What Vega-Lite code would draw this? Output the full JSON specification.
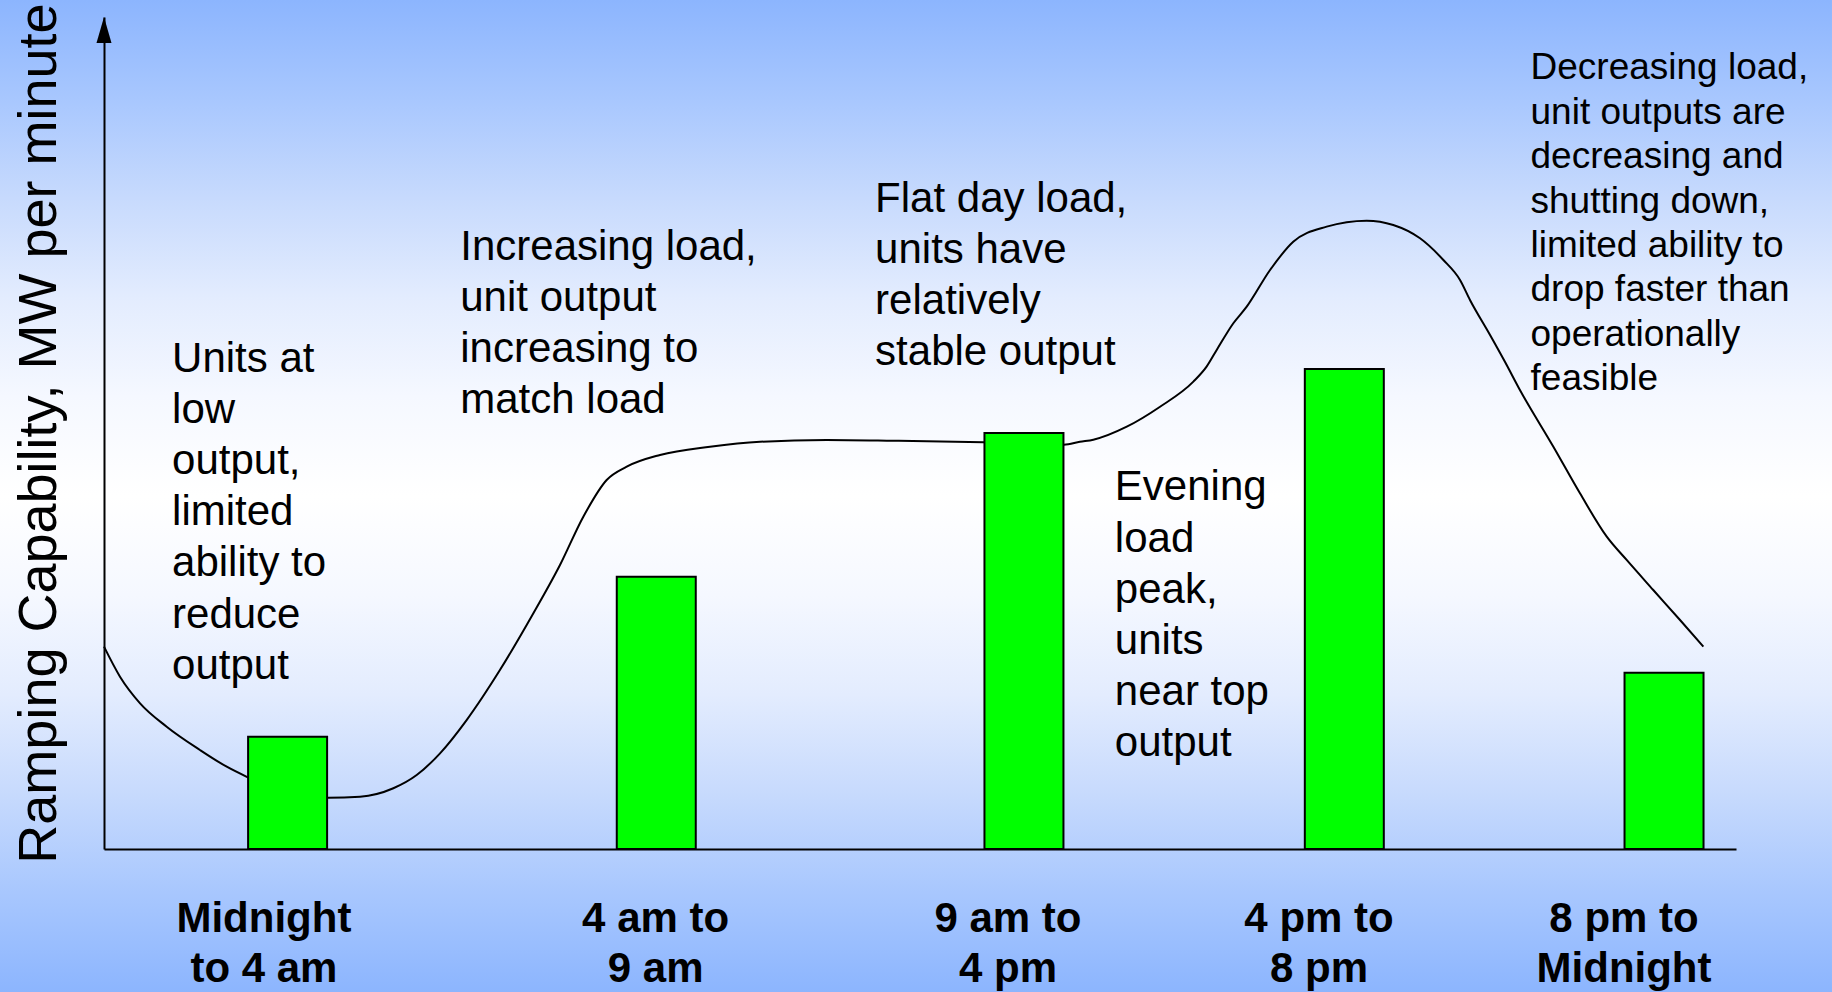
{
  "$schema": "https://vega.github.io/schema/vega-lite/v6.json",
  "width": 1632,
  "height": 832,
  "autosize": {"type": "none"},
  "padding": {"left": 104, "top": 17, "right": 96, "bottom": 143},
  "background": "#ffffff",
  "config": {
    "view": {"stroke": null},
    "font": "Liberation Sans",
    "axis": {"domainColor": "#000000", "domainWidth": 2, "ticks": false, "labels": false, "grid": false, "zindex": 1}
  },
  "datasets": {
    "bars": [
      {"period": "Midnight\nto 4 am", "slot": 11.25, "capability": 13.5, "label_pos": 9.8},
      {"period": "4 am to\n9 am", "slot": 33.84, "capability": 32.73, "label_pos": 33.8},
      {"period": "9 am to\n4 pm", "slot": 56.37, "capability": 50.0, "label_pos": 55.39},
      {"period": "4 pm to\n8 pm", "slot": 76.0, "capability": 57.7, "label_pos": 74.45},
      {"period": "8 pm to\nMidnight", "slot": 95.59, "capability": 21.19, "label_pos": 93.14}
    ],
    "curve": [
      {"pos": 0, "load": 24.32}, {"pos": 0.98, "load": 20.71}, {"pos": 2.21, "load": 17.51},
      {"pos": 3.84, "load": 14.7}, {"pos": 5.88, "load": 11.9}, {"pos": 7.52, "load": 9.89},
      {"pos": 8.81, "load": 8.62}, {"pos": 10.17, "load": 7.45}, {"pos": 12.01, "load": 6.49},
      {"pos": 13.74, "load": 6.17}, {"pos": 15.69, "load": 6.29}, {"pos": 17.73, "load": 7.3},
      {"pos": 19.16, "load": 8.89}, {"pos": 20.59, "load": 11.5}, {"pos": 22.22, "load": 15.5},
      {"pos": 24.26, "load": 21.51}, {"pos": 26.31, "load": 28.33}, {"pos": 27.94, "load": 34.13},
      {"pos": 29.37, "load": 39.94}, {"pos": 30.8, "load": 44.35}, {"pos": 32.03, "load": 45.95},
      {"pos": 34.07, "load": 47.36}, {"pos": 37.13, "load": 48.35}, {"pos": 40.2, "load": 48.95},
      {"pos": 44.28, "load": 49.16}, {"pos": 48.36, "load": 49.07}, {"pos": 53.88, "load": 48.88},
      {"pos": 56.31, "load": 48.74}, {"pos": 58.82, "load": 48.6}, {"pos": 59.8, "load": 48.95},
      {"pos": 60.62, "load": 49.2}, {"pos": 62.67, "load": 50.76}, {"pos": 64.71, "load": 53.16},
      {"pos": 66.75, "load": 56.17}, {"pos": 67.56, "load": 57.97}, {"pos": 68.18, "load": 59.98},
      {"pos": 69.2, "load": 63.19}, {"pos": 70.02, "load": 65.18}, {"pos": 71.45, "load": 69.59},
      {"pos": 72.87, "load": 72.99}, {"pos": 74.92, "load": 74.8}, {"pos": 77.37, "load": 75.52},
      {"pos": 79.0, "load": 75.0}, {"pos": 80.64, "load": 73.4}, {"pos": 82.07, "load": 70.79},
      {"pos": 83.09, "load": 68.39}, {"pos": 83.7, "load": 65.99}, {"pos": 84.93, "load": 61.78},
      {"pos": 85.85, "load": 58.53}, {"pos": 86.76, "load": 55.17}, {"pos": 88.81, "load": 48.35},
      {"pos": 90.44, "load": 42.75}, {"pos": 92.08, "load": 37.54}, {"pos": 93.3, "load": 34.74},
      {"pos": 94.93, "load": 31.13}, {"pos": 96.57, "load": 27.52}, {"pos": 98.0, "load": 24.32}
    ],
    "notes": [
      {"period": "Midnight to 4 am", "note": "Units at\nlow\noutput,\nlimited\nability to\nreduce\noutput", "x": 4.17, "y": 57.33},
      {"period": "4 am to 9 am", "note": "Increasing load,\nunit output\nincreasing to\nmatch load", "x": 21.83, "y": 70.79},
      {"period": "9 am to 4 pm", "note": "Flat day load,\nunits have\nrelatively\nstable output", "x": 47.25, "y": 76.6},
      {"period": "4 pm to 8 pm", "note": "Evening\nload\npeak,\nunits\nnear top\noutput", "x": 61.94, "y": 41.89},
      {"period": "8 pm to Midnight", "note": "Decreasing load,\nunit outputs are\ndecreasing and\nshutting down,\nlimited ability to\ndrop faster than\noperationally\nfeasible", "x": 87.41, "y": 92.51}
    ]
  },
  "layer": [
    {
      "data": {"values": [{}]},
      "mark": {
        "type": "rect",
        "fill": {
          "gradient": "linear", "x1": 0, "y1": 0, "x2": 0, "y2": 1,
          "stops": [
            {"offset": 0.0, "color": "#8cb5fe"},
            {"offset": 0.1, "color": "#a8c7fe"},
            {"offset": 0.2, "color": "#c7dafd"},
            {"offset": 0.3, "color": "#e3ecfe"},
            {"offset": 0.4, "color": "#f5f8ff"},
            {"offset": 0.5, "color": "#ffffff"},
            {"offset": 0.6, "color": "#f5f8ff"},
            {"offset": 0.7, "color": "#e3ecfe"},
            {"offset": 0.8, "color": "#c7dafd"},
            {"offset": 0.9, "color": "#a8c7fe"},
            {"offset": 1.0, "color": "#8cb5fe"}
          ]
        }
      },
      "encoding": {
        "x": {"datum": -6.3725, "type": "quantitative", "scale": {"domain": [0, 100], "nice": false, "zero": false, "padding": 0}},
        "x2": {"datum": 105.882},
        "y": {"datum": -17.1875, "type": "quantitative", "scale": {"domain": [0, 100], "nice": false, "zero": false, "padding": 0}},
        "y2": {"datum": 102.043}
      }
    },
    {
      "data": {"name": "curve"},
      "mark": {"type": "line", "interpolate": "monotone", "color": "#000000", "strokeWidth": 2},
      "encoding": {
        "x": {"field": "pos", "type": "quantitative", "axis": {"title": null, "domainColor": "#000000", "domainWidth": 2, "ticks": false, "labels": false, "grid": false, "zindex": 1}},
        "y": {"field": "load", "type": "quantitative",
              "axis": {"title": "Ramping Capability, MW per minute", "titleFontSize": 54, "titleFontWeight": "normal", "titleColor": "#000000", "titleFont": "Liberation Sans", "titlePadding": 38, "domainColor": "#000000", "domainWidth": 2, "ticks": false, "labels": false, "grid": false, "zindex": 1}}
      }
    },
    {
      "data": {"name": "bars"},
      "mark": {"type": "bar", "width": 79, "fill": "#00ff00", "stroke": "#000000", "strokeWidth": 2},
      "encoding": {
        "x": {"field": "slot", "type": "quantitative"},
        "y": {"field": "capability", "type": "quantitative"}
      }
    },
    {
      "data": {"name": "notes"},
      "transform": [{"filter": "datum.period !== '8 pm to Midnight'"}],
      "mark": {"type": "text", "align": "left", "baseline": "alphabetic", "lineBreak": "\n", "lineHeight": 51.1, "fontSize": 42, "font": "Liberation Sans", "color": "#000000"},
      "encoding": {
        "x": {"field": "x", "type": "quantitative"},
        "y": {"field": "y", "type": "quantitative"},
        "text": {"field": "note"}
      }
    },
    {
      "data": {"name": "notes"},
      "transform": [{"filter": "datum.period === '8 pm to Midnight'"}],
      "mark": {"type": "text", "align": "left", "baseline": "alphabetic", "lineBreak": "\n", "lineHeight": 44.4, "fontSize": 37, "font": "Liberation Sans", "color": "#000000"},
      "encoding": {
        "x": {"field": "x", "type": "quantitative"},
        "y": {"field": "y", "type": "quantitative"},
        "text": {"field": "note"}
      }
    },
    {
      "data": {"name": "bars"},
      "mark": {"type": "text", "align": "center", "baseline": "alphabetic", "lineBreak": "\n", "lineHeight": 50.7, "fontSize": 42, "fontWeight": "bold", "font": "Liberation Sans", "color": "#000000"},
      "encoding": {
        "x": {"field": "label_pos", "type": "quantitative"},
        "y": {"datum": -9.94, "type": "quantitative"},
        "text": {"field": "period"}
      }
    },
    {
      "data": {"values": [{}]},
      "mark": {"type": "point", "shape": "M0,0L0.577,2L-0.577,2Z", "size": 676, "filled": true, "color": "#000000", "opacity": 1, "strokeWidth": 0},
      "encoding": {
        "x": {"datum": 0, "type": "quantitative"},
        "y": {"datum": 100, "type": "quantitative"}
      }
    }
  ]
}
